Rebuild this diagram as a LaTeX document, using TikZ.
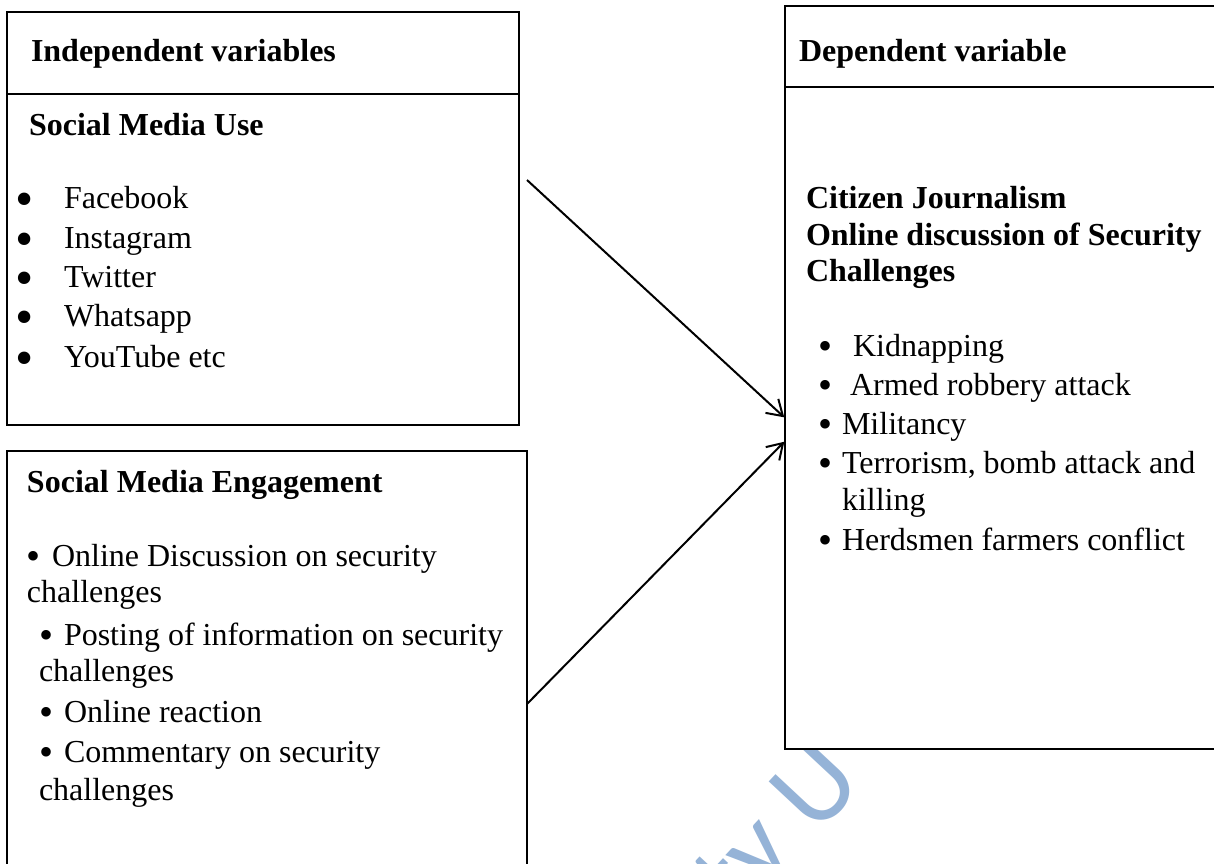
\documentclass[tikz,border=0pt]{standalone}
\usepackage{fontspec}
\setmainfont{Liberation Serif}
\newfontfamily\wmfont{Carlito}
\usetikzlibrary{arrows.meta}
\definecolor{wmblue}{HTML}{95B3D7}
% big bullet (top-left list) and medium bullet (other lists)
\newcommand\bigbul[1]{\makebox[#1][l]{\smash{\fontsize{52}{52}\selectfont\raisebox{-8pt}{•}}}}
\newcommand\medbul[1]{\makebox[#1][l]{\smash{\fontsize{40}{40}\selectfont\raisebox{-3pt}{•}}}}
\tikzset{
  boxthick/.style={draw=black, fill=white, line width=2.4pt, inner sep=0pt, outer sep=0pt, anchor=north west},
  boxthin/.style={draw=black, fill=white, line width=1.3pt, inner sep=0pt, outer sep=0pt, anchor=north west},
  txt/.style={anchor=base west, inner sep=0pt, outer sep=0pt, font=\fontsize{32}{39}\selectfont},
  btxt/.style={txt, font=\fontsize{32}{39}\selectfont\bfseries},
  arr/.style={line width=2pt, -{Straight Barb[length=15pt,width=19pt,line width=2pt]}, shorten >=1pt},
  wm/.style={text=wmblue, font=\wmfont\fontsize{112}{112}\selectfont, rotate=47, anchor=base, inner sep=0pt}
}
\begin{document}
\begin{tikzpicture}[x=1pt,y=-1pt]
\path[use as bounding box] (0,0) rectangle (1214,863);
\clip (0,0) rectangle (1214,863);
\fill[white] (0,0) rectangle (1214,863);
% watermark
\node[wm] (wmark) at (802,852) {ty U};
% boxes
\node[boxthick, minimum width=512pt, minimum height=82pt] (ivhead) at (7,12) {};
\node[boxthick, minimum width=512pt, minimum height=331pt] (ivbody) at (7,94) {};
\node[boxthin, minimum width=520pt, minimum height=460pt] (smeng) at (7,451) {};
\node[boxthick, line width=2.2pt, minimum width=460pt, minimum height=81pt] (dvhead) at (785,6) {};
\node[boxthick, line width=2.2pt, minimum width=460pt, minimum height=662pt] (dvbody) at (785,87) {};
% connectors
\coordinate (a1s) at (527,180);
\coordinate (a2s) at (527,704);
\draw[arr] (a1s) -- (dvbody.west);
\draw[arr] (a2s) -- ([yshift=-23pt]dvbody.west);
% texts: independent variables
\node[btxt] (t1) at (31,61) {Independent variables};
\node[btxt] (t2) at (29,135) {Social Media Use};
\node[txt] (l1) at (16,208) {\bigbul{48pt}Facebook};
\node[txt] (l2) at (16,248) {\bigbul{48pt}Instagram};
\node[txt] (l3) at (16,287) {\bigbul{48pt}Twitter};
\node[txt] (l4) at (16,326) {\bigbul{48pt}Whatsapp};
\node[txt] (l5) at (16,367) {\bigbul{48pt}YouTube etc};
% social media engagement
\node[btxt] (e0) at (27,492) {Social Media Engagement};
\node[txt] (e1) at (27,566) {\medbul{25pt}Online Discussion on security};
\node[txt] (e1b) at (27,602) {challenges};
\node[txt] (e2) at (39,645) {\medbul{25pt}Posting of information on security};
\node[txt] (e2b) at (39,681) {challenges};
\node[txt] (e3) at (39,722) {\medbul{25pt}Online reaction};
\node[txt] (e4) at (39,762) {\medbul{25pt}Commentary on security};
\node[txt] (e4b) at (39,800) {challenges};
% dependent variable
\node[btxt] (d0) at (799,61) {Dependent variable};
\node[btxt] (d1) at (806,208) {Citizen Journalism};
\node[btxt] (d2) at (806,245) {Online discussion of Security};
\node[btxt] (d3) at (806,281) {Challenges};
\node[txt] (k1) at (818,356) {\medbul{35pt}Kidnapping};
\node[txt] (k2) at (818,395) {\medbul{32pt}Armed robbery attack};
\node[txt] (k3) at (818,434) {\medbul{24pt}Militancy};
\node[txt] (k4) at (818,473) {\medbul{24pt}Terrorism, bomb attack and};
\node[txt] (k4b) at (842,510) {killing};
\node[txt] (k5) at (818,550) {\medbul{24pt}Herdsmen farmers conflict};
\end{tikzpicture}
\end{document}
